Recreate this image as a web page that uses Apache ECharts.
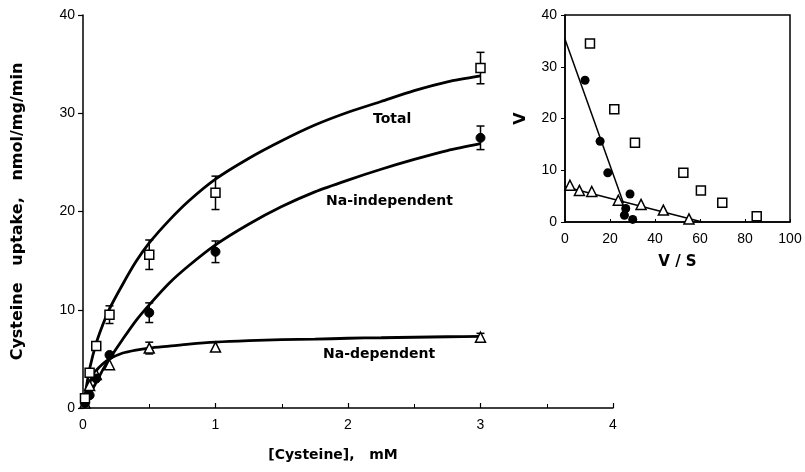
<!DOCTYPE html>
<html>
<head>
<meta charset="utf-8">
<script src="https://cdn.jsdelivr.net/npm/echarts@6/dist/echarts.min.js"></script>
<style>
html,body{margin:0;padding:0;background:#fff;}
#chart{width:805px;height:472px;}
</style>
</head>
<body>
<div id="chart"></div>
<script>
// ---- Main plot data (concentration in mM, uptake in nmol/mg/min) ----
const S = [0.015, 0.05, 0.1, 0.2, 0.5, 1, 3];
const totalV = [1.0, 3.6, 6.3, 9.5, 15.6, 21.9, 34.6];
const totalErr = [0, 0, 0, 0.9, 1.5, 1.7, 1.6];
const indepV = [0.5, 1.3, 3.0, 5.4, 9.7, 15.9, 27.5];
const indepErr = [0, 0, 0, 0, 1.0, 1.1, 1.2];
const depV = [0.5, 2.3, 3.4, 4.4, 6.1, 6.2, 7.2];
const depErr = [0, 0, 0, 0, 0.6, 0, 0.4];

// fitted curves
const curveS = [0, 0.025, 0.05, 0.1, 0.15, 0.2, 0.3, 0.4, 0.5, 0.65, 0.8, 1, 1.25, 1.5, 1.75, 2, 2.25, 2.5, 2.75, 3];
const totalCurve = [0, 2.1, 4.0, 6.6, 8.5, 10.1, 12.6, 14.9, 16.8, 19.1, 21.1, 23.3, 25.4, 27.2, 28.8, 30.1, 31.2, 32.3, 33.2, 33.8];
const indepCurve = [0, 0.7, 1.4, 2.6, 3.9, 5.0, 7.0, 8.9, 10.5, 12.7, 14.5, 16.6, 18.7, 20.5, 22.0, 23.2, 24.3, 25.3, 26.2, 26.9];
const depCurve = [0, 1.4, 2.6, 3.8, 4.5, 5.0, 5.6, 5.9, 6.1, 6.3, 6.5, 6.7, 6.85, 6.95, 7.0, 7.1, 7.15, 7.2, 7.25, 7.3];

const mainXTicks = [0, 1, 2, 3, 4];
const mainYTicks = [0, 10, 20, 30, 40];

// ---- Inset (Eadie-Hofstee) data ----
const insetTotalVS = [11.1, 21.9, 31.1, 52.6, 60.4, 69.9, 85.2];
const insetTotalV = [34.5, 21.8, 15.3, 9.5, 6.1, 3.7, 1.1];
const insetIndepVS = [8.9, 15.6, 19.0, 28.9, 27.0, 26.4, 30.1];
const insetIndepV = [27.4, 15.6, 9.5, 5.4, 2.6, 1.3, 0.5];
const insetDepVS = [2.2, 6.4, 11.9, 23.7, 33.8, 43.7, 55.1];
const insetDepV = [7.1, 6.1, 5.9, 4.2, 3.4, 2.3, 0.6];
const insetIndepLineVS = [0, 26];
const insetIndepLineV = [35.3, 3.6];
const insetDepLineVS = [0, 61];
const insetDepLineV = [6.8, 0];

const labels = {total: 'Total', indep: 'Na-independent', dep: 'Na-dependent'};

const zip = (a, b) => a.map((v, i) => [v, b[i]]);
const zip3 = (a, b, c) => a.map((v, i) => [v, b[i], c[i]]);

const FONT = 'Liberation Sans';
const BFONT = 'DejaVu Sans';

function errRender(params, api) {
  const x = api.value(0), v = api.value(1), e = api.value(2);
  if (!e) return null;
  const top = api.coord([x, v + e]);
  const bot = api.coord([x, v - e]);
  const w = 4;
  const st = {stroke: '#000', lineWidth: 1.5};
  return {
    type: 'group',
    children: [
      {type: 'line', shape: {x1: top[0], y1: top[1], x2: bot[0], y2: bot[1]}, style: st},
      {type: 'line', shape: {x1: top[0] - w, y1: top[1], x2: top[0] + w, y2: top[1]}, style: st},
      {type: 'line', shape: {x1: bot[0] - w, y1: bot[1], x2: bot[0] + w, y2: bot[1]}, style: st}
    ]
  };
}

const chart = echarts.init(document.getElementById('chart'), null, {renderer: 'canvas'});

const axisLabelStyle = {color: '#000', fontFamily: FONT, fontSize: 14};
const curveStyle = {color: '#000', width: 2.8};

const option = {
  backgroundColor: '#fff',
  animation: false,
  grid: [
    {left: 83, top: 15, width: 530, height: 393, show: false},
    {left: 565, top: 15, width: 225, height: 207, show: true, borderColor: '#000', borderWidth: 1.5, backgroundColor: 'transparent'}
  ],
  xAxis: [
    {
      gridIndex: 0, type: 'value', min: mainXTicks[0], max: mainXTicks[mainXTicks.length - 1], interval: 1,
      splitLine: {show: false},
      axisLine: {lineStyle: {color: '#000', width: 1.5}},
      axisTick: {inside: true, length: 5, lineStyle: {color: '#000', width: 1.2}},
      minorTick: {show: true, splitNumber: 2, length: 4, lineStyle: {color: '#000'}},
      axisLabel: Object.assign({margin: 10}, axisLabelStyle),
      name: '[Cysteine],   mM', nameLocation: 'middle', nameGap: 40,
      nameTextStyle: {color: '#000', fontFamily: BFONT, fontWeight: 'bold', fontSize: 14, padding: [0, 30, 0, 0]}
    },
    {
      gridIndex: 1, type: 'value', min: 0, max: 100, interval: 20,
      splitLine: {show: false},
      axisLine: {lineStyle: {color: '#000', width: 1.5}},
      axisTick: {show: true, inside: true, length: 3, lineStyle: {color: '#000'}},
      axisLabel: Object.assign({margin: 10}, axisLabelStyle),
      name: 'V / S', nameLocation: 'middle', nameGap: 33,
      nameTextStyle: {color: '#000', fontFamily: BFONT, fontWeight: 'bold', fontSize: 15}
    }
  ],
  yAxis: [
    {
      gridIndex: 0, type: 'value', min: mainYTicks[0], max: mainYTicks[mainYTicks.length - 1], interval: 10,
      splitLine: {show: false},
      axisLine: {show: true, lineStyle: {color: '#000', width: 1.5}},
      axisTick: {show: true, inside: false, length: 5, lineStyle: {color: '#000', width: 1.2}},
      axisLabel: Object.assign({margin: 8}, axisLabelStyle),
      name: 'Cysteine   uptake,   nmol/mg/min', nameLocation: 'middle', nameGap: 57,
      nameTextStyle: {color: '#000', fontFamily: BFONT, fontWeight: 'bold', fontSize: 16}
    },
    {
      gridIndex: 1, type: 'value', min: 0, max: 40, interval: 10,
      splitLine: {show: false},
      axisLine: {show: true, lineStyle: {color: '#000', width: 1.5}},
      axisTick: {show: true, inside: false, length: 4, lineStyle: {color: '#000'}},
      axisLabel: Object.assign({margin: 8}, axisLabelStyle),
      name: 'V', nameLocation: 'middle', nameGap: 36,
      nameTextStyle: {color: '#000', fontFamily: BFONT, fontWeight: 'bold', fontSize: 16}
    }
  ],
  graphic: [
    {type: 'text', left: 373, top: 112, style: {text: labels.total, fill: '#000', font: 'bold 14px "DejaVu Sans"'}},
    {type: 'text', left: 326, top: 194, style: {text: labels.indep, fill: '#000', font: 'bold 14px "DejaVu Sans"'}},
    {type: 'text', left: 323, top: 347, style: {text: labels.dep, fill: '#000', font: 'bold 14px "DejaVu Sans"'}}
  ],
  series: [
    // fitted curves
    {type: 'line', xAxisIndex: 0, yAxisIndex: 0, data: zip(curveS, totalCurve), smooth: 0.25,
      showSymbol: false, lineStyle: curveStyle, z: 2},
    {type: 'line', xAxisIndex: 0, yAxisIndex: 0, data: zip(curveS, indepCurve), smooth: 0.25,
      showSymbol: false, lineStyle: curveStyle, z: 2},
    {type: 'line', xAxisIndex: 0, yAxisIndex: 0, data: zip(curveS, depCurve), smooth: 0.25,
      showSymbol: false, lineStyle: curveStyle, z: 2},
    // error bars
    {type: 'custom', xAxisIndex: 0, yAxisIndex: 0, renderItem: errRender, data: zip3(S, totalV, totalErr), z: 3},
    {type: 'custom', xAxisIndex: 0, yAxisIndex: 0, renderItem: errRender, data: zip3(S, indepV, indepErr), z: 3},
    {type: 'custom', xAxisIndex: 0, yAxisIndex: 0, renderItem: errRender, data: zip3(S, depV, depErr), z: 3},
    // markers
    {type: 'scatter', xAxisIndex: 0, yAxisIndex: 0, data: zip(S, depV), symbol: 'triangle', symbolSize: 10,
      itemStyle: {color: '#fff', borderColor: '#000', borderWidth: 1.5, opacity: 1}, z: 4},
    {type: 'scatter', xAxisIndex: 0, yAxisIndex: 0, data: zip(S, indepV), symbol: 'circle', symbolSize: 9,
      itemStyle: {color: '#000', borderColor: '#000', borderWidth: 1, opacity: 1}, z: 5},
    {type: 'scatter', xAxisIndex: 0, yAxisIndex: 0, data: zip(S, totalV), symbol: 'rect', symbolSize: 9,
      itemStyle: {color: '#fff', borderColor: '#000', borderWidth: 1.5, opacity: 1}, z: 6},
    // inset
    {type: 'line', xAxisIndex: 1, yAxisIndex: 1, data: zip(insetIndepLineVS, insetIndepLineV), showSymbol: false,
      lineStyle: {color: '#000', width: 1.5}, z: 2},
    {type: 'line', xAxisIndex: 1, yAxisIndex: 1, data: zip(insetDepLineVS, insetDepLineV), showSymbol: false,
      lineStyle: {color: '#000', width: 1.5}, z: 2},
    {type: 'scatter', xAxisIndex: 1, yAxisIndex: 1, data: zip(insetTotalVS, insetTotalV), symbol: 'rect', symbolSize: 9,
      itemStyle: {color: '#fff', borderColor: '#000', borderWidth: 1.5, opacity: 1}, z: 4},
    {type: 'scatter', xAxisIndex: 1, yAxisIndex: 1, data: zip(insetIndepVS, insetIndepV), symbol: 'circle', symbolSize: 9,
      itemStyle: {color: '#000', opacity: 1}, z: 5},
    {type: 'scatter', xAxisIndex: 1, yAxisIndex: 1, data: zip(insetDepVS, insetDepV), symbol: 'triangle', symbolSize: 10,
      itemStyle: {color: '#fff', borderColor: '#000', borderWidth: 1.5, opacity: 1}, z: 4}
  ]
};
chart.setOption(option);
</script>
</body>
</html>
